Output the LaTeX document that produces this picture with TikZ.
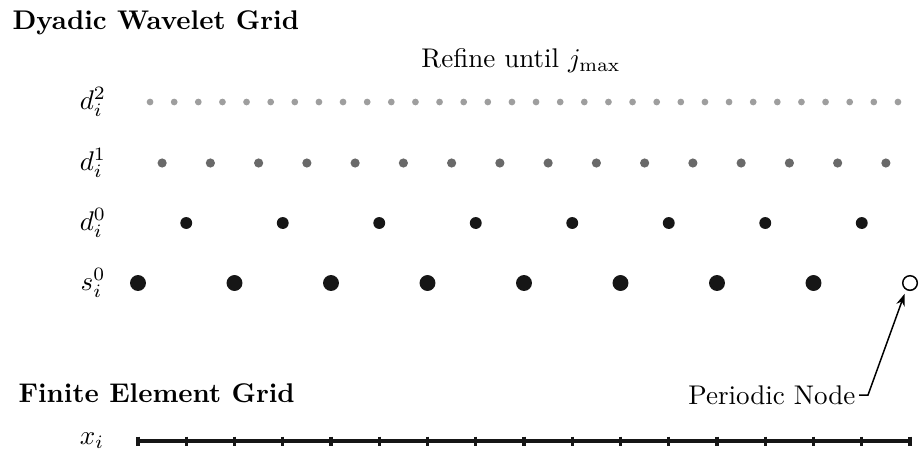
\documentclass[tikz,border=0pt]{standalone}
\usetikzlibrary{arrows.meta}
\definecolor{lev2}{RGB}{158,158,158}
\definecolor{lev1}{RGB}{105,105,105}
\definecolor{lev0}{RGB}{22,22,22}
\begin{document}
\begin{tikzpicture}[x=0.37pt,y=-0.37pt,
  dotbase/.style={circle,inner sep=0pt,draw=none},
  dtwo/.style={dotbase,fill=lev2,minimum size=2.5pt},
  done/.style={dotbase,fill=lev1,minimum size=3.4pt},
  dzero/.style={dotbase,fill=lev0,minimum size=4.4pt},
  szero/.style={dotbase,fill=lev0,minimum size=5.9pt},
  opennode/.style={circle,inner sep=0pt,draw=black,fill=white,line width=0.55pt,minimum size=5.4pt},
  rowlabel/.style={inner sep=0pt},
  gridtitle/.style={inner sep=0pt,anchor=west,font=\bfseries},
  feline/.style={line width=1.15pt,color=lev0},
  pointer/.style={line width=0.55pt,-{Stealth[length=4.5pt,width=3.2pt]}}
]
\useasboundingbox (0,0) rectangle (922,455);
\node[gridtitle] (t1) at (12,23) {Dyadic Wavelet Grid};
\node[inner sep=0pt] (refine) at (521,61) {Refine until $j_{\max}$};
\node[rowlabel] (l2) at (93,102) {$d_i^2$};
\node[rowlabel] (l1) at (93,163) {$d_i^1$};
\node[rowlabel] (l0) at (93,223) {$d_i^0$};
\node[rowlabel] (ls) at (93,283) {$s_i^0$};
\foreach \k in {0,...,31} \node[dtwo] (a\k) at ({150.06+24.125*\k},102) {};
\foreach \k in {0,...,15} \node[done] (b\k) at ({162.125+48.25*\k},163) {};
\foreach \k in {0,...,7} \node[dzero] (c\k) at ({186.25+96.5*\k},223) {};
\foreach \k in {0,...,7} \node[szero] (s\k) at ({138+96.5*\k},283) {};
\node[opennode] (pn) at (910,283) {};
\node[gridtitle] (t2) at (18,393) {Finite Element Grid};
\node[inner sep=0pt,anchor=east] (pnl) at (856,395) {Periodic Node};
\coordinate (bend) at (868,395);
\draw[pointer,shorten >=1.5pt] (pnl.east) ++(3,0) -- (bend) -- (pn.240);
\node[rowlabel] (lx) at (92,441) {$x_i$};
\coordinate (fe0) at (138,441);
\coordinate (fe1) at (910,441);
\draw[feline] (fe0) -- (fe1);
\foreach \k in {0,...,16} \draw[feline] ({138+48.25*\k},436.5) -- ({138+48.25*\k},445.5);
\end{tikzpicture}
\end{document}
